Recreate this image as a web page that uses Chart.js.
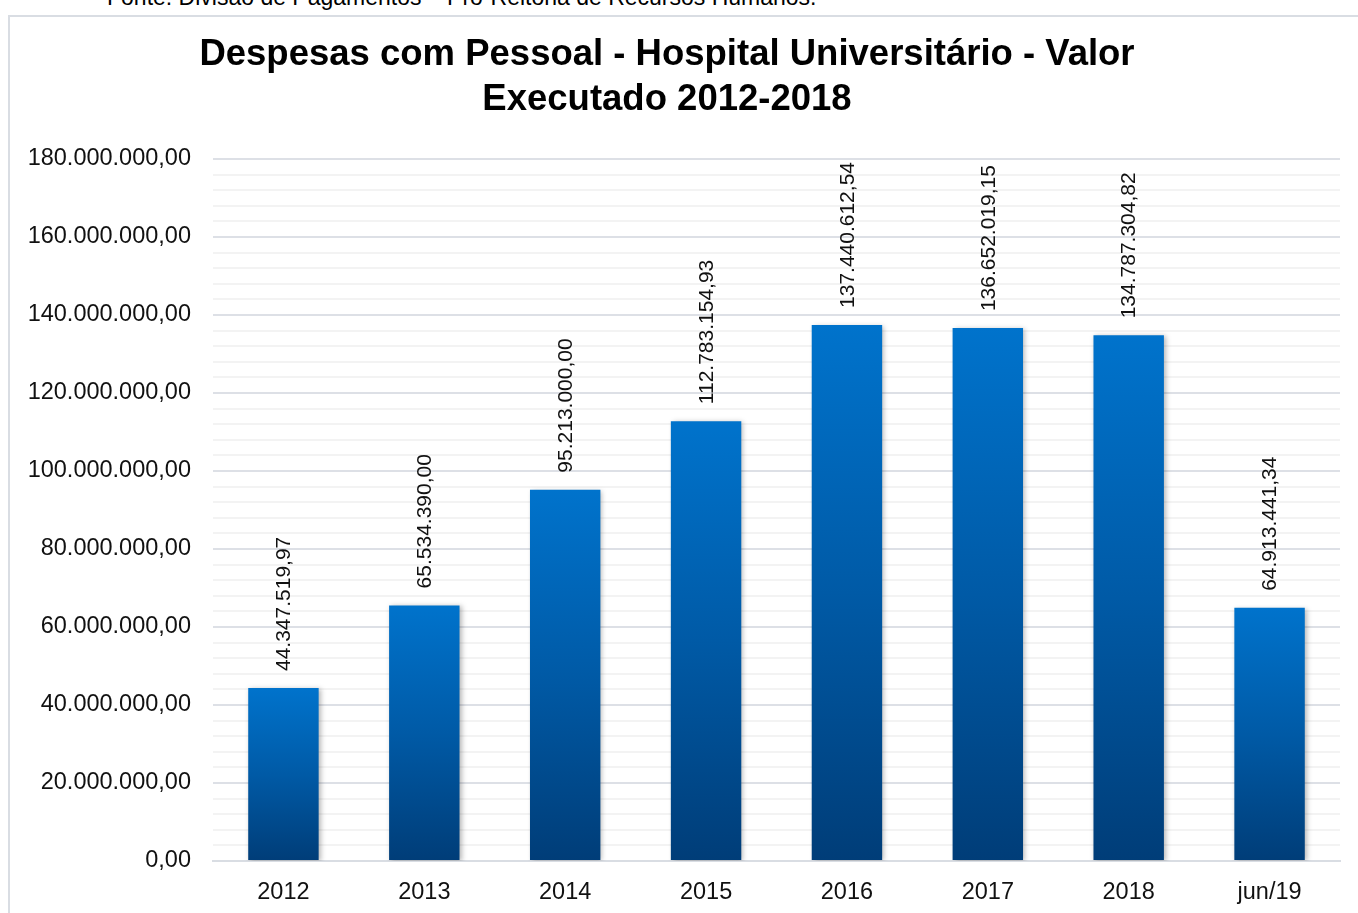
<!DOCTYPE html>
<html lang="pt-BR">
<head>
<meta charset="utf-8">
<title>Despesas com Pessoal - Hospital Universitário</title>
<script src="https://cdn.jsdelivr.net/npm/chart.js@4/dist/chart.umd.min.js"></script>
<style>
    html, body {
        margin: 0;
        padding: 0;
        background: #ffffff;
        overflow: hidden;
    }
    body {
        width: 1358px;
        height: 913px;
        position: relative;
        font-family: "Liberation Sans", Arial, sans-serif;
    }
    .source {
        position: absolute;
        left: 107px;
        top: -15px;
        font-size: 23px;
        line-height: 24px;
        color: #000;
        white-space: nowrap;
    }
    .frame {
        position: absolute;
        left: 8px;
        top: 15px;
        width: 1400px;
        height: 950px;
        border: 2px solid #d9dde3;
        box-sizing: border-box;
    }
    .title {
        position: absolute;
        left: 117px;
        width: 1100px;
        top: 30px;
        text-align: center;
        font-size: 36.5px;
        font-weight: bold;
        line-height: 45px;
        color: #000;
    }
    .chart-box {
        position: absolute;
        left: 0;
        top: 0;
        width: 1358px;
        height: 913px;
    }
</style>
</head>
<body>
<div class="source">Fonte: Divisão de Pagamentos – Pró-Reitoria de Recursos Humanos.</div>
<div class="frame"></div>
<div class="chart-box"><canvas id="despesasChart"></canvas></div>
<div class="title">Despesas com Pessoal - Hospital Universitário - Valor<br>Executado 2012-2018</div>

<script>
// Data
const categories = ['2012', '2013', '2014', '2015', '2016', '2017', '2018', 'jun/19'];
const valoresExecutados = [44347519.97, 65534390.00, 95213000.00, 112783154.93, 137440612.54, 136652019.15, 134787304.82, 64913441.34];
const yMax = 180000000;
const majorStep = 20000000;
const minorStep = 4000000;

// pt-BR number format, e.g. 44.347.519,97
function formatBR(v) {
    const parts = v.toFixed(2).split('.');
    const inteiro = parts[0].replace(/\B(?=(\d{3})+(?!\d))/g, '.');
    return inteiro + ',' + parts[1];
}

// Vertical gradient per bar, from its own top down to the axis
function barGradient(context) {
    const chart = context.chart;
    const area = chart.chartArea;
    if (!area) return '#0060b0';
    const yScale = chart.scales.y;
    const top = yScale.getPixelForValue(context.raw);
    const bottom = yScale.getPixelForValue(0);
    const g = chart.ctx.createLinearGradient(0, top, 0, bottom);
    g.addColorStop(0, '#0073cc');
    g.addColorStop(0.5, '#005aa6');
    g.addColorStop(1, '#003d78');
    return g;
}

// Soft shadow behind bars
const barShadow = {
    id: 'barShadow',
    beforeDatasetsDraw(chart) {
        const ctx = chart.ctx;
        ctx.save();
        ctx.shadowColor = 'rgba(0, 0, 0, 0.28)';
        ctx.shadowBlur = 5;
        ctx.shadowOffsetX = 2;
        ctx.shadowOffsetY = 1;
    },
    afterDatasetsDraw(chart) {
        chart.ctx.restore();
    }
};

// Rotated value labels above each bar
const valueLabels = {
    id: 'valueLabels',
    afterDatasetsDraw(chart) {
        const ctx = chart.ctx;
        const meta = chart.getDatasetMeta(0);
        ctx.save();
        ctx.font = '21px "Liberation Sans", Arial, sans-serif';
        ctx.fillStyle = '#111';
        ctx.textAlign = 'left';
        ctx.textBaseline = 'middle';
        meta.data.forEach((bar, i) => {
            ctx.save();
            ctx.translate(bar.x + 1, bar.y - 17);
            ctx.rotate(-Math.PI / 2);
            ctx.fillText(formatBR(valoresExecutados[i]), 0, 0);
            ctx.restore();
        });
        ctx.restore();
    }
};

function initializeChart() {
    const ctx = document.getElementById('despesasChart').getContext('2d');

    new Chart(ctx, {
        type: 'bar',
        data: {
            labels: categories,
            datasets: [{
                label: 'Valor Executado',
                data: valoresExecutados,
                backgroundColor: barGradient,
                borderWidth: 0,
                barPercentage: 0.5,
                categoryPercentage: 1.0
            }]
        },
        options: {
            responsive: true,
            maintainAspectRatio: false,
            animation: false,
            layout: {
                padding: { top: 159, right: 18, bottom: 0, left: 0 }
            },
            plugins: {
                legend: { display: false },
                title: { display: false },
                tooltip: { enabled: false }
            },
            scales: {
                x: {
                    grid: { display: false, drawTicks: false },
                    border: { display: true, color: '#d9dde3', width: 2 },
                    ticks: {
                        color: '#111',
                        padding: 17,
                        font: { family: '"Liberation Sans", Arial, sans-serif', size: 23.5 }
                    },
                    afterFit(scale) {
                        scale.height = 52;
                    }
                },
                y: {
                    min: 0,
                    max: yMax,
                    border: { display: false },
                    grid: {
                        drawTicks: false,
                        lineWidth: 2,
                        color: ctx => (ctx.tick && ctx.tick.value % majorStep === 0) ? '#dde0e6' : '#f3f3f3'
                    },
                    ticks: {
                        stepSize: minorStep,
                        maxTicksLimit: 100,
                        autoSkip: false,
                        color: '#111',
                        padding: 22,
                        font: { family: '"Liberation Sans", Arial, sans-serif', size: 23.5 },
                        callback: value => value % majorStep === 0 ? formatBR(value) : ''
                    },
                    afterFit(scale) {
                        scale.width = 213;
                    }
                }
            }
        },
        plugins: [barShadow, valueLabels]
    });
}

document.addEventListener('DOMContentLoaded', initializeChart);
</script>
</body>
</html>
